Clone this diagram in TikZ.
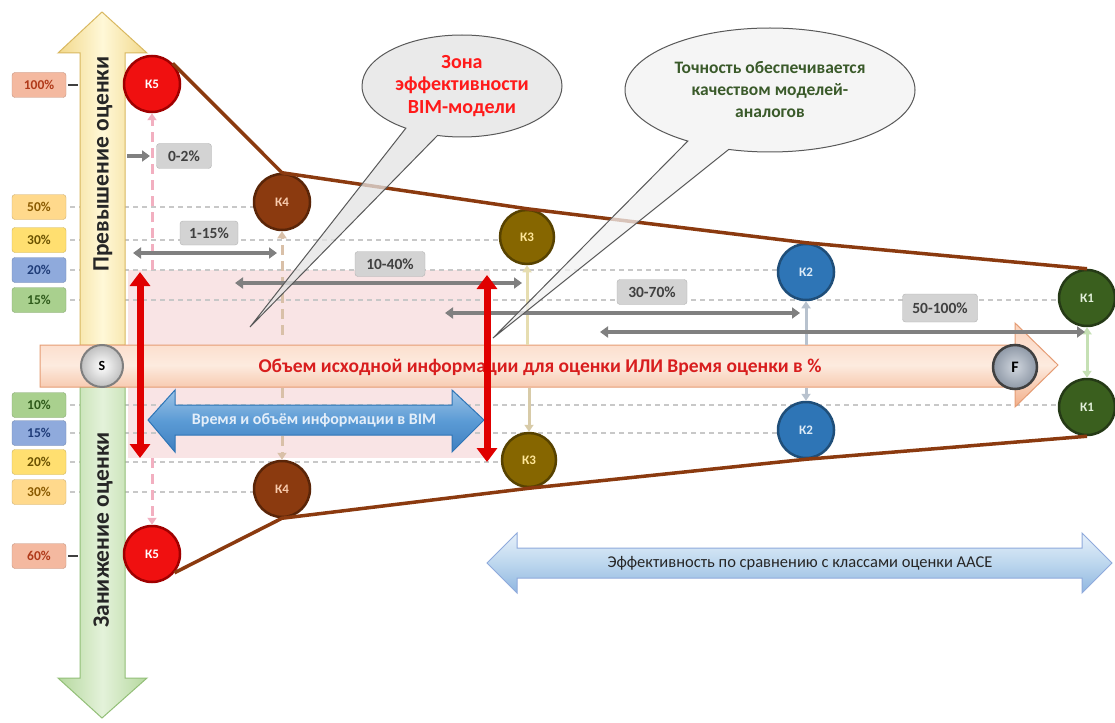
\documentclass[tikz,border=0pt]{standalone}
\usepackage{fontspec}
\setmainfont{Carlito}
\usetikzlibrary{arrows.meta,shapes.callouts,shapes.geometric}
\definecolor{grayarr}{HTML}{808080}
\definecolor{graybox}{HTML}{D3D3D3}
\definecolor{grid}{HTML}{C8C8C8}
\definecolor{redarr}{HTML}{E00000}
\definecolor{brownl}{HTML}{8B3A0F}
\definecolor{pinkzone}{HTML}{F8DEDF}
\definecolor{cK5}{HTML}{F01010}\definecolor{bK5}{HTML}{A00000}\definecolor{tK5}{HTML}{FFFFFF}
\definecolor{cK4}{HTML}{8B3A0F}\definecolor{bK4}{HTML}{5A2508}\definecolor{tK4}{HTML}{F8CBAD}
\definecolor{cK3}{HTML}{866600}\definecolor{bK3}{HTML}{574200}\definecolor{tK3}{HTML}{FFE699}
\definecolor{cK2}{HTML}{2E75B6}\definecolor{bK2}{HTML}{1F4E79}\definecolor{tK2}{HTML}{DDEBF7}
\definecolor{cK1}{HTML}{3A5F1E}\definecolor{bK1}{HTML}{253A16}\definecolor{tK1}{HTML}{E2EFDA}
\definecolor{pSal}{HTML}{F4B9A0}\definecolor{tSal}{HTML}{B03A1A}
\definecolor{pOra}{HTML}{FFD98C}\definecolor{tOra}{HTML}{8A5A00}
\definecolor{pYel}{HTML}{FFDF70}\definecolor{tYel}{HTML}{6B5200}
\definecolor{pBlu}{HTML}{8FAADC}\definecolor{tBlu}{HTML}{1F3C78}
\definecolor{pGrn}{HTML}{A9D08E}\definecolor{tGrn}{HTML}{2E5A1A}
\definecolor{yEdge}{HTML}{F2D88A}\definecolor{yMid}{HTML}{FFF8D8}\definecolor{yLine}{HTML}{D9B860}
\definecolor{gEdge}{HTML}{B5D89E}\definecolor{gMid}{HTML}{E4F2DA}\definecolor{gLine}{HTML}{93BF78}
\definecolor{hTop}{HTML}{FAD2BC}\definecolor{hBot}{HTML}{F2AE88}\definecolor{hMid}{HTML}{FDEBDF}\definecolor{hLine}{HTML}{E59C74}
\definecolor{axisText}{HTML}{D81E1E}
\definecolor{pinkArr}{HTML}{F2AFC0}\definecolor{tanArr}{HTML}{D9C0A8}\definecolor{olvArr}{HTML}{E6DDB0}
\definecolor{olvArr2}{HTML}{D8CBA8}\definecolor{bluArr}{HTML}{B8C2CE}\definecolor{grnArr}{HTML}{C5E0B4}
\definecolor{bTop}{HTML}{9DC3E6}\definecolor{bBot}{HTML}{3F7FC0}\definecolor{bMid}{HTML}{5B9BD5}\definecolor{bLine}{HTML}{2E75B6}\definecolor{bText}{HTML}{E4EEF9}
\definecolor{sOut}{HTML}{BFBFBF}\definecolor{sLine}{HTML}{7F7F7F}
\definecolor{fIn}{HTML}{D0D6DE}\definecolor{fOut}{HTML}{8E98A6}\definecolor{fLine}{HTML}{404040}
\definecolor{c1Fill}{HTML}{E4E4E4}\definecolor{c2Fill}{HTML}{F2F2F2}\definecolor{cLine}{HTML}{595959}
\definecolor{c1Text}{HTML}{FF1A1A}\definecolor{c2Text}{HTML}{3A5A2A}
\definecolor{aTop}{HTML}{E6F0FA}\definecolor{aBot}{HTML}{8FB6E0}\definecolor{aMid}{HTML}{BDD7EE}\definecolor{aLine}{HTML}{8FAADC}
\tikzset{
  pct/.style={draw=#1!80!black, fill=#1, rounded corners=3pt, minimum width=54pt, minimum height=25pt, inner sep=0pt, font=\fontsize{13.5}{15}\selectfont\bfseries},
  kball/.style={circle, minimum size=56pt, inner sep=0pt, line width=2.5pt, fill=c#1, draw=b#1, text=t#1, font=\fontsize{13}{14}\selectfont\bfseries},
  glabel/.style={fill=graybox, draw=graybox!85!black, rounded corners=3pt, inner sep=0pt, minimum height=25pt, text=black!75, font=\fontsize{15.5}{17}\selectfont\bfseries},
  garrow/.style={draw=grayarr, line width=4.5pt, {Triangle[width=11pt,length=8pt]}-{Triangle[width=11pt,length=8pt]}},
  gridline/.style={draw=grid, line width=1.3pt, dash pattern=on 5pt off 4pt},
  redarrow/.style={draw=redarr, line width=7pt, {Triangle[width=20pt,length=14pt]}-{Triangle[width=20pt,length=14pt]}},
  brownline/.style={draw=brownl, line width=3.5pt, line join=round},
  palearr/.style={line width=3pt, -{Triangle[width=9pt,length=7pt]}},
}
\begin{document}
\begin{tikzpicture}[x=1pt,y=-1pt]
\useasboundingbox (0,0) rectangle (1115,722);
\fill[white] (0,0) rectangle (1115,722);

% pink zone
\fill[pinkzone, opacity=0.8] (128,270) rectangle (490,458);

% grid dashed lines
\draw[gridline] (70,207) -- (255,207);
\draw[gridline] (70,240) -- (505,240);
\draw[gridline] (70,270) -- (785,270);
\draw[gridline] (70,300) -- (1065,300);
\draw[gridline] (70,405) -- (1065,405);
\draw[gridline] (70,433) -- (785,433);
\draw[gridline] (70,462) -- (505,462);
\draw[gridline] (70,492) -- (258,492);

% vertical yellow / green arrows
\shade[left color=yEdge, right color=yEdge, middle color=yMid, draw=yLine, line width=1pt]
  (80,345) -- (80,53) -- (58,53) -- (102,12) -- (147,53) -- (125,53) -- (125,345) -- cycle;
\shade[left color=gEdge, right color=gEdge, middle color=gMid, draw=gLine, line width=1pt]
  (80,387) -- (80,678) -- (58,678) -- (102,718) -- (147,678) -- (125,678) -- (125,387) -- cycle;
\node[rotate=90, font=\fontsize{23.5}{25}\selectfont\bfseries, text=black!85] (up) at (103,164) {Превышение оценки};
\node[rotate=90, font=\fontsize{23.5}{25}\selectfont\bfseries, text=black!85] (down) at (103,530) {Занижение оценки};

% percentage labels
\node[pct=pSal, text=tSal] (p100) at (39,85) {100\%};
\node[pct=pOra, text=tOra] (p50) at (39,207) {50\%};
\node[pct=pYel, text=tYel] (p30) at (39,240) {30\%};
\node[pct=pBlu, text=tBlu] (p20) at (39,270) {20\%};
\node[pct=pGrn, text=tGrn] (p15) at (39,300) {15\%};
\node[pct=pGrn, text=tGrn] (m10) at (39,405) {10\%};
\node[pct=pBlu, text=tBlu] (m15) at (39,433) {15\%};
\node[pct=pYel, text=tYel] (m20) at (39,462) {20\%};
\node[pct=pOra, text=tOra] (m30) at (39,492) {30\%};
\node[pct=pSal, text=tSal] (m60) at (39,556) {60\%};
\coordinate (d100) at (78,85);
\coordinate (d60) at (78,556);
\draw[black!75, line width=2pt] (p100.east) ++(2,0) -- (d100);
\draw[black!75, line width=2pt] (m60.east) ++(2,0) -- (d60);

% horizontal main arrow
\shade[top color=hTop, bottom color=hBot, middle color=hMid, draw=hLine, line width=1pt]
  (40,345) -- (1015,345) -- (1015,323) -- (1058,365) -- (1015,407) -- (1015,387) -- (40,387) -- cycle;
\node[font=\fontsize{19.5}{21}\selectfont\bfseries, text=axisText] (axis) at (540,367) {Объем исходной информации для оценки ИЛИ Время оценки в \%};

% K circles
\node[kball=K5] (K5a) at (152,84) {К5};
\node[kball=K4] (K4a) at (282,202) {К4};
\node[kball=K3, minimum size=54pt] (K3a) at (527,237) {К3};
\node[kball=K2] (K2a) at (806,272) {К2};
\node[kball=K1] (K1a) at (1087,298) {К1};
\node[kball=K5] (K5b) at (152,554) {К5};
\node[kball=K4] (K4b) at (282,489) {К4};
\node[kball=K3, minimum size=54pt] (K3b) at (529,460) {К3};
\node[kball=K2] (K2b) at (806,430) {К2};
\node[kball=K1] (K1b) at (1087,407) {К1};

% pale vertical arrows toward circles
\coordinate (v5t) at (152,270); \coordinate (v5b) at (152,458);
\coordinate (v4t) at (282,335); \coordinate (v4b) at (282,388);
\coordinate (v3t) at (527,345); \coordinate (v3b) at (529,388);
\coordinate (v2t) at (806,345); \coordinate (v2b) at (806,388);
\draw[palearr, draw=pinkArr, dash pattern=on 10pt off 6pt] (v5t) -- (K5a.south);
\draw[palearr, draw=pinkArr, dash pattern=on 10pt off 6pt] (v5b) -- (K5b.north);
\draw[palearr, draw=tanArr, dash pattern=on 10pt off 6pt] (v4t) -- (K4a.south);
\draw[palearr, draw=tanArr, dash pattern=on 10pt off 6pt] (v4b) -- (K4b.north);
\draw[palearr, draw=olvArr] (v3t) -- (K3a.south);
\draw[palearr, draw=olvArr2] (v3b) -- (K3b.north);
\draw[palearr, draw=bluArr] (v2t) -- (K2a.south);
\draw[palearr, draw=bluArr] (v2b) -- (K2b.north);
\draw[line width=3pt, draw=grnArr, {Triangle[width=9pt,length=7pt]}-{Triangle[width=9pt,length=7pt]}] (K1a.south) -- (K1b.north);

% brown envelope lines
\draw[brownline] (K5a.45) -- (K4a.north) -- (K3a.north) -- (K2a.north) -- (K1a.north);
\draw[brownline] (K5b.-40) -- (K4b.south) -- (K3b.south) -- (K2b.south) -- (K1b.south);

% gray range arrows
\coordinate (a0s) at (127,156); \coordinate (a0e) at (150,156);
\coordinate (a1s) at (133,253); \coordinate (a1e) at (277,253);
\coordinate (a2s) at (235,283); \coordinate (a2e) at (522,283);
\coordinate (a3s) at (445,313); \coordinate (a3e) at (800,313);
\coordinate (a4s) at (600,332); \coordinate (a4e) at (1085,332);
\draw[draw=grayarr, line width=4.5pt, -{Triangle[width=11pt,length=8pt]}] (a0s) -- (a0e);
\draw[garrow] (a1s) -- (a1e);
\draw[garrow] (a2s) -- (a2e);
\draw[garrow] (a3s) -- (a3e);
\draw[garrow] (a4s) -- (a4e);
\node[glabel, minimum width=55pt] (l0) at (184,156) {0-2\%};
\node[glabel, minimum width=58pt, minimum height=24pt] (l1) at (209,233) {1-15\%};
\node[glabel, minimum width=70pt] (l2) at (390,264) {10-40\%};
\node[glabel, minimum width=70pt] (l3) at (652,292) {30-70\%};
\node[glabel, minimum width=75pt, minimum height=28pt] (l4) at (940,308) {50-100\%};

% BIM blue double arrow
\shade[top color=bTop, bottom color=bBot, middle color=bMid, draw=bLine, line width=1pt]
  (148,420) -- (175,390) -- (175,405) -- (452,405) -- (452,390) -- (484,420) -- (452,452) -- (452,435) -- (175,435) -- (175,452) -- cycle;
\node[font=\fontsize{16}{18}\selectfont\bfseries, text=bText] (bim) at (314,420) {Время и объём информации в BIM};

% S and F circles
\node[circle, minimum size=42pt, inner sep=0pt, inner color=white, outer color=sOut, draw=sLine, line width=2pt, font=\fontsize{14}{16}\selectfont\bfseries] (S) at (102,366) {S};
\node[circle, minimum size=44pt, inner sep=0pt, inner color=fIn, outer color=fOut, draw=fLine, line width=2.5pt, font=\fontsize{16}{18}\selectfont\bfseries] (F) at (1015,367) {F};

% red vertical arrows
\coordinate (r1t) at (140,272); \coordinate (r1b) at (140,458);
\coordinate (r2t) at (487,275); \coordinate (r2b) at (487,462);
\draw[redarrow] (r1t) -- (r1b);
\draw[redarrow] (r2t) -- (r2b);

% callouts
\node[ellipse callout, callout absolute pointer={(250,327)}, callout pointer arc=20,
      minimum width=200pt, minimum height=102pt, inner sep=0pt, fill=c1Fill, fill opacity=0.75, text opacity=1,
      draw=cLine, line width=1pt, align=center, text=c1Text,
      font=\fontsize{20}{22.5}\selectfont\bfseries] (c1) at (462,86) {Зона\\эффективности\\BIM-модели};
\node[ellipse callout, callout absolute pointer={(493,338)}, callout pointer arc=18,
      minimum width=290pt, minimum height=124pt, inner sep=0pt, fill=c2Fill, fill opacity=0.75, text opacity=1,
      draw=cLine, line width=1pt, align=center, text=c2Text,
      font=\fontsize{17.5}{22}\selectfont\bfseries] (c2) at (770,90) {Точность обеспечивается\\качеством моделей-\\аналогов};

% AACE arrow
\shade[top color=aTop, bottom color=aBot, middle color=aMid, draw=aLine, line width=1pt]
  (487,563) -- (517,533) -- (517,548) -- (1082,548) -- (1082,533) -- (1112,563) -- (1082,593) -- (1082,578) -- (517,578) -- (517,593) -- cycle;
\node[font=\fontsize{16.5}{18}\selectfont, text=black!85] (aace) at (800,563) {Эффективность по сравнению с классами оценки AACE};
\end{tikzpicture}
\end{document}
